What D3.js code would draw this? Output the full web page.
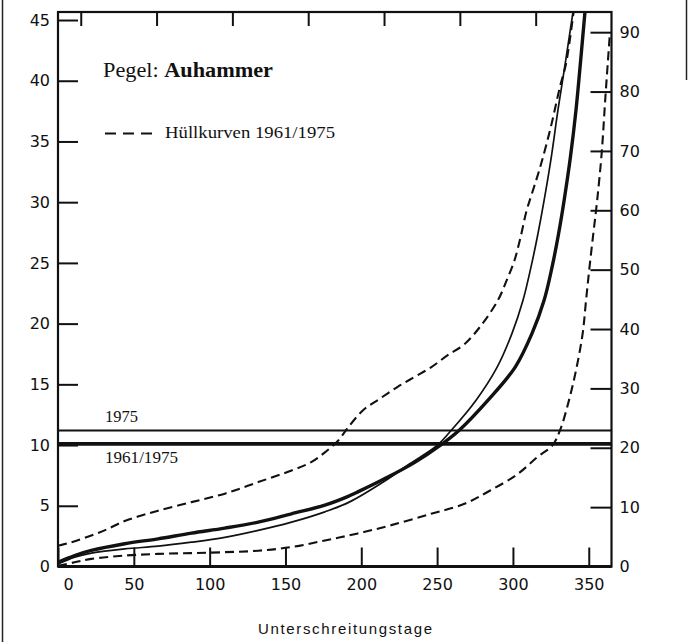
<!DOCTYPE html>
<html>
<head>
<meta charset="utf-8">
<script src="https://cdn.jsdelivr.net/npm/d3@7"></script>
<style>
  html, body { margin: 0; padding: 0; background: #fff; }
  svg { display: block; }
  .tick text { font-family: "DejaVu Sans", sans-serif; font-size: 16px; fill: #111; }
  .serif { font-family: "Liberation Serif", "Times New Roman", serif; fill: #111; }
</style>
</head>
<body>
<svg id="chart" width="688" height="642"></svg>
<script>
// Dauerlinien (Unterschreitungsdauer) – Pegel Auhammer
// x: Unterschreitungstage, y: Abfluss (left scale)

const xTicks = [0, 50, 100, 150, 200, 250, 300, 350];
const topTicks = [15, 65, 115, 165, 215, 265, 315];
const leftTicks = [0, 5, 10, 15, 20, 25, 30, 35, 40, 45];
const rightTicks = [0, 10, 20, 30, 40, 50, 60, 70, 80, 90];

// upper envelope (Hüllkurve oben)
const upperDays = [0, 9, 22, 33, 44, 55, 66, 88, 110, 132, 154, 167, 176, 185, 191, 201, 212, 224, 235, 246, 257, 268, 279, 290, 296, 301, 305, 309, 312, 318, 325, 331, 335, 340];
const upperVals = [1.7, 2.0, 2.55, 3.1, 3.75, 4.2, 4.6, 5.3, 6.0, 6.95, 7.9, 8.6, 9.4, 10.4, 11.4, 12.85, 13.8, 14.8, 15.6, 16.4, 17.4, 18.3, 19.85, 21.9, 23.6, 25.2, 27.1, 29.3, 30.5, 32.9, 36.2, 39.5, 41.4, 45.66];

// lower envelope (Hüllkurve unten)
const lowerDays = [0, 11, 22, 44, 66, 88, 110, 132, 154, 176, 197, 219, 246, 268, 285, 303, 316, 326, 331, 337, 342, 346, 348.2, 350.5, 353, 355.5, 358.5, 361, 364];
const lowerVals = [0.05, 0.35, 0.63, 0.9, 1.04, 1.1, 1.18, 1.3, 1.6, 2.14, 2.7, 3.38, 4.34, 5.16, 6.26, 7.6, 9.0, 9.97, 11.2, 13.7, 16.4, 19.2, 21.9, 24.65, 27.4, 30.1, 34, 38.7, 44];

// Dauerlinie 1975 (thin)
const y1975Days = [0, 11, 22, 44, 66, 88, 110, 132, 154, 176, 192, 215, 232, 250, 259.2, 275.7, 289.5, 299.4, 306.6, 311.9, 316.5, 320.5, 325.4, 329.7, 334.7, 339.6];
const y1975Vals = [0.2, 0.77, 1.1, 1.45, 1.67, 2.0, 2.4, 2.97, 3.65, 4.5, 5.3, 7.0, 8.46, 9.97, 11.2, 13.7, 16.4, 19.2, 21.9, 24.65, 27.4, 30.1, 33.8, 37.6, 41.6, 45.66];

// Dauerlinie 1961/1975 (thick)
const yMeanDays = [0, 11, 22, 44, 66, 88, 110, 132, 154, 176, 191, 197, 215, 235, 252, 264.4, 283.6, 301.4, 312.6, 320.5, 325.8, 330.1, 333.7, 338, 341.6, 344.6, 347.5];
const yMeanVals = [0.35, 0.9, 1.32, 1.87, 2.28, 2.75, 3.16, 3.65, 4.34, 5.05, 5.75, 6.1, 7.2, 8.55, 9.97, 11.2, 13.7, 16.4, 19.2, 21.9, 24.65, 27.4, 30.1, 33.8, 37.6, 41.6, 45.66];

// mean levels
const meanLabels = ["1975", "1961/1975"];
const meanValues = [11.2, 10.1];

const svg = d3.select("#chart");

const x = d3.scaleLinear().domain([0, 365]).range([58, 611.5]);
const yL = d3.scaleLinear().domain([0, 45.66]).range([566.5, 12]);
const yR = d3.scaleLinear().domain([0, 93.4]).range([566.5, 12]);

// page edges
svg.append("line").attr("x1", 2.5).attr("x2", 2.5).attr("y1", 0).attr("y2", 642)
  .attr("stroke", "#222").attr("stroke-width", 1.5);
svg.append("line").attr("x1", 686.5).attr("x2", 686.5).attr("y1", 0).attr("y2", 80)
  .attr("stroke", "#222").attr("stroke-width", 1.5);

// axes
const gx = svg.append("g").attr("transform", `translate(0,${yL(0)})`)
  .call(d3.axisBottom(x).tickValues(xTicks).tickSize(-19).tickPadding(12));
gx.selectAll(".tick text").filter(d => d === 0).attr("dx", 10);

svg.append("g").attr("transform", `translate(0,${yL.range()[1]})`)
  .call(d3.axisTop(x).tickValues(topTicks).tickSize(-14).tickFormat(""));

svg.append("g").attr("transform", `translate(${x(0)},0)`)
  .call(d3.axisLeft(yL).tickValues(leftTicks).tickSize(-20).tickPadding(8));

svg.append("g").attr("transform", `translate(${x(365)},0)`)
  .call(d3.axisRight(yR).tickValues(rightTicks).tickSize(-21).tickPadding(8));

svg.selectAll(".domain").remove();
svg.selectAll(".tick line").attr("stroke", "#111").attr("stroke-width", 2);

// frame
svg.append("rect")
  .attr("x", x(0)).attr("y", yL.range()[1])
  .attr("width", x(365) - x(0)).attr("height", yL(0) - yL.range()[1])
  .attr("fill", "none").attr("stroke", "#111").attr("stroke-width", 2.2);
svg.append("line").attr("x1", x(0)).attr("x2", x(365)).attr("y1", yL(0)).attr("y2", yL(0))
  .attr("stroke", "#111").attr("stroke-width", 3);

// mean level lines
svg.selectAll(".mean").data(meanValues).join("line")
  .attr("class", "mean")
  .attr("x1", x(0)).attr("x2", x(365))
  .attr("y1", d => yL(d)).attr("y2", d => yL(d))
  .attr("stroke", "#111")
  .attr("stroke-width", (d, i) => i === 0 ? 2 : 3.6);

svg.append("clipPath").attr("id", "plot")
  .append("rect").attr("x", x(0)).attr("y", yL.range()[1])
  .attr("width", x(365) - x(0)).attr("height", yL(0) - yL.range()[1]);

const line = d3.line().x(d => x(d[0])).y(d => yL(d[1])).curve(d3.curveCatmullRom.alpha(0.5));
const zip = (a, b) => a.map((v, i) => [v, b[i]]);

const curves = [
  { pts: zip(upperDays, upperVals), w: 2.1, dash: "9,5" },
  { pts: zip(lowerDays, lowerVals), w: 2.1, dash: "9,5" },
  { pts: zip(y1975Days, y1975Vals), w: 1.7, dash: null },
  { pts: zip(yMeanDays, yMeanVals), w: 3.4, dash: null }
];

svg.append("g").attr("clip-path", "url(#plot)")
  .selectAll("path").data(curves).join("path")
  .attr("d", d => line(d.pts))
  .attr("fill", "none")
  .attr("stroke", "#111")
  .attr("stroke-width", d => d.w)
  .attr("stroke-dasharray", d => d.dash);

// labels of mean level lines
svg.append("text").attr("class", "serif")
  .attr("x", 105).attr("y", 422).attr("font-size", 16)
  .attr("textLength", 33).attr("lengthAdjust", "spacingAndGlyphs")
  .text(meanLabels[0]);
svg.append("text").attr("class", "serif")
  .attr("x", 105).attr("y", 463).attr("font-size", 16)
  .attr("textLength", 73).attr("lengthAdjust", "spacingAndGlyphs")
  .text(meanLabels[1]);

// station title
const title = svg.append("text").attr("class", "serif")
  .attr("x", 103).attr("y", 77).attr("font-size", 20)
  .attr("textLength", 170).attr("lengthAdjust", "spacingAndGlyphs");
title.append("tspan").text("Pegel: ");
title.append("tspan").attr("font-weight", "bold").text("Auhammer");

// legend
svg.append("line").attr("x1", 105).attr("x2", 153).attr("y1", 133.5).attr("y2", 133.5)
  .attr("stroke", "#111").attr("stroke-width", 1.8).attr("stroke-dasharray", "11,7");
svg.append("text").attr("class", "serif")
  .attr("x", 165).attr("y", 138).attr("font-size", 17)
  .attr("textLength", 170).attr("lengthAdjust", "spacingAndGlyphs")
  .text("Hüllkurven 1961/1975");

// x-axis title
svg.append("text")
  .attr("x", 345).attr("y", 634)
  .attr("text-anchor", "middle")
  .attr("font-family", "Liberation Sans, Arial, sans-serif")
  .attr("font-size", 15)
  .attr("textLength", 174).attr("lengthAdjust", "spacing")
  .attr("fill", "#111")
  .text("Unterschreitungstage");
</script>
</body>
</html>
